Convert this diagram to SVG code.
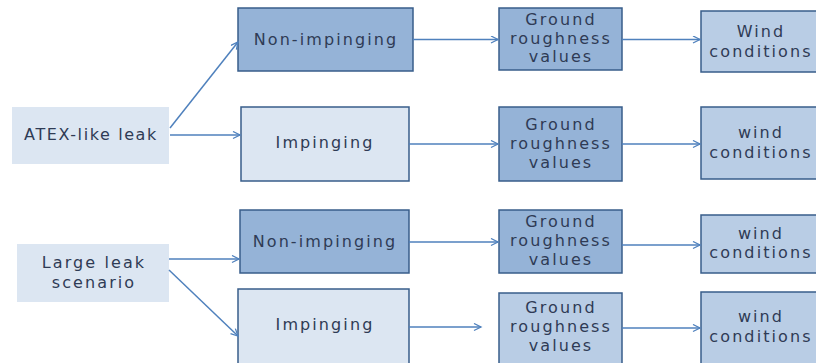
<svg xmlns="http://www.w3.org/2000/svg" width="816" height="363" viewBox="0 0 816 363">
<defs>
<marker id="ah" markerWidth="10" markerHeight="10" refX="8" refY="4" orient="auto" markerUnits="userSpaceOnUse">
<path d="M1,0.5 L8,4 L1,7.5" fill="none" stroke="#4f81bd" stroke-width="1.3"/>
</marker>
</defs>
<style>
.src{fill:#dce6f2;stroke:none}
.dk{fill:#95b3d7;stroke:#385d8a;stroke-width:1.5}
.lt{fill:#dce6f2;stroke:#385d8a;stroke-width:1.5}
.md{fill:#b9cde5;stroke:#385d8a;stroke-width:1.5}
text{font-family:"DejaVu Sans","Liberation Sans",sans-serif;font-size:16px;fill:#2f3b55;text-anchor:middle;letter-spacing:2.1px}
.cn line{stroke:#4f81bd;stroke-width:1.5;marker-end:url(#ah)}
</style>
<rect width="816" height="363" fill="#ffffff"/>
<g id="atex"><rect class="src" x="12" y="107" width="157" height="57"/><text x="91" y="140" style="letter-spacing:1.6px">ATEX-like leak</text></g>
<g id="nonimp1"><rect class="dk" x="238" y="8" width="175" height="63"/><text x="326" y="45">Non-impinging</text></g>
<g id="imp1"><rect class="lt" x="241" y="107" width="168" height="74"/><text x="325" y="148">Impinging</text></g>
<g id="ground1"><rect class="dk" x="499" y="8" width="123" height="62"/><text x="561" y="25">Ground</text><text x="561" y="44">roughness</text><text x="561" y="62">values</text></g>
<g id="wind1"><rect class="md" x="701" y="11" width="116" height="61"/><text x="761" y="37">Wind</text><text x="761" y="57">conditions</text></g>
<g id="ground2"><rect class="dk" x="499" y="107" width="123" height="74"/><text x="561" y="130">Ground</text><text x="561" y="149">roughness</text><text x="561" y="168">values</text></g>
<g id="wind2"><rect class="md" x="701" y="107" width="116" height="72"/><text x="761" y="138">wind</text><text x="761" y="158">conditions</text></g>
<g id="large"><rect class="src" x="17" y="244" width="152" height="58"/><text x="94" y="268">Large leak</text><text x="94" y="288">scenario</text></g>
<g id="nonimp2"><rect class="dk" x="240" y="210" width="169" height="63"/><text x="325" y="247">Non-impinging</text></g>
<g id="imp2"><rect class="lt" x="238" y="289" width="171" height="80"/><text x="325" y="330">Impinging</text></g>
<g id="ground3"><rect class="dk" x="499" y="210" width="123" height="63"/><text x="561" y="227">Ground</text><text x="561" y="246">roughness</text><text x="561" y="265">values</text></g>
<g id="wind3"><rect class="md" x="701" y="215" width="116" height="58"/><text x="761" y="239">wind</text><text x="761" y="258">conditions</text></g>
<g id="ground4"><rect class="md" x="499" y="293" width="123" height="76"/><text x="561" y="313">Ground</text><text x="561" y="332">roughness</text><text x="561" y="351">values</text></g>
<g id="wind4"><rect class="md" x="701" y="292" width="116" height="77"/><text x="761" y="322">wind</text><text x="761" y="342">conditions</text></g>
<g class="cn" id="connectors">
<line x1="170" y1="128" x2="238" y2="42"/>
<line x1="170" y1="135" x2="240" y2="135"/>
<line x1="413" y1="39.5" x2="498" y2="39.5"/>
<line x1="622" y1="39.5" x2="700" y2="39.5"/>
<line x1="409" y1="144" x2="498" y2="144"/>
<line x1="622" y1="144" x2="700" y2="144"/>
<line x1="169" y1="259" x2="239" y2="259"/>
<line x1="169" y1="270" x2="238" y2="336"/>
<line x1="409" y1="242" x2="498" y2="242"/>
<line x1="622" y1="245" x2="700" y2="245"/>
<line x1="409" y1="327" x2="481" y2="327"/>
<line x1="622" y1="328" x2="700" y2="328"/>
</g>
</svg>
